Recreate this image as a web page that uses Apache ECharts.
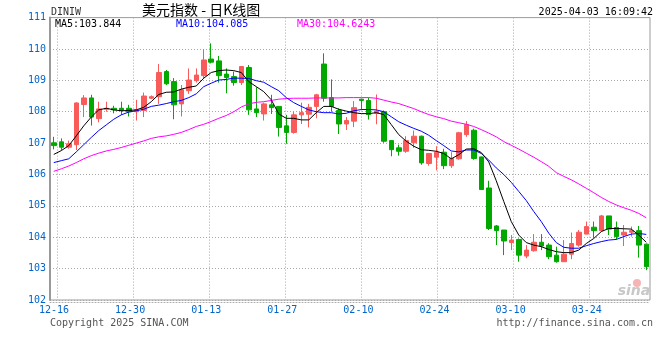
<!DOCTYPE html>
<html>
<head>
<meta charset="utf-8">
<script src="https://cdn.jsdelivr.net/npm/echarts@6/dist/echarts.min.js"></script>
<style>html,body{margin:0;padding:0;background:#fff;}#c{width:660px;height:360px;}</style>
</head>
<body>
<div id="c"></div>
<script>
const dates = ['12-13','12-16','12-17','12-18','12-19','12-20','12-23','12-24','12-25','12-26','12-27','12-30','12-31',
'01-01','01-02','01-03','01-06','01-07','01-08','01-09','01-10','01-13','01-14','01-15','01-16','01-17','01-20','01-21','01-22','01-23','01-24','01-27','01-28','01-29','01-30','01-31',
'02-03','02-04','02-05','02-06','02-07','02-10','02-11','02-12','02-13','02-14','02-17','02-18','02-19','02-20','02-21','02-24','02-25','02-26','02-27','02-28',
'03-03','03-04','03-05','03-06','03-07','03-10','03-11','03-12','03-13','03-14','03-17','03-18','03-19','03-20','03-21','03-24','03-25','03-26','03-27','03-28','03-31',
'04-01','04-02','04-03'];

const opens = [107.01,107.04,106.87,106.95,108.23,108.44,107.78,108.08,108.11,108.11,
108.11,108.00,108.04,108.43,108.48,109.28,108.96,108.25,108.67,108.99,
109.15,109.68,109.62,109.20,109.12,108.93,109.41,108.09,107.93,108.22,
108.17,107.55,107.34,107.90,107.92,108.17,109.52,108.45,108.04,107.61,
107.70,108.40,108.36,107.95,108.00,107.08,106.85,106.74,107.01,107.22,
106.35,106.55,106.71,106.28,106.50,107.27,107.41,106.56,105.57,104.36,
104.23,103.83,103.93,103.40,103.57,103.84,103.75,103.43,103.22,103.46,
103.75,104.10,104.32,104.21,104.68,104.31,104.07,104.16,104.21,103.78];
const closes = [106.92,106.87,106.98,108.28,108.44,107.83,108.09,108.11,108.06,108.05,
108.00,108.06,108.50,108.48,109.25,108.89,108.22,108.70,109.01,109.17,
109.65,109.58,109.15,109.09,108.93,109.44,108.06,107.97,108.25,108.13,
107.50,107.34,107.90,107.97,108.14,108.54,108.43,108.17,107.61,107.72,
108.13,108.36,107.91,108.02,107.06,106.79,106.74,107.08,107.22,106.37,
106.67,106.71,106.28,106.51,107.33,107.59,106.51,105.52,104.28,104.21,
103.88,103.91,103.43,103.59,103.84,103.72,103.38,103.22,103.46,103.80,
104.16,104.34,104.21,104.68,104.26,104.02,104.16,104.21,103.75,103.06];
const lows = [106.80,106.78,106.82,106.78,107.83,107.56,107.66,108.00,107.95,107.90,
107.85,107.72,107.83,108.40,108.25,108.85,107.76,107.85,108.57,108.93,
109.05,109.54,108.93,108.59,108.83,108.85,107.90,107.83,107.72,107.93,
107.21,106.98,107.30,107.61,107.50,107.79,108.32,108.00,107.29,107.42,
107.51,108.07,107.75,107.60,107.01,106.58,106.60,106.69,106.85,106.31,
106.28,106.13,106.17,106.21,106.47,107.20,106.47,105.51,104.23,103.75,
103.43,103.59,103.22,103.33,103.54,103.59,103.30,103.19,103.22,103.30,
103.70,104.09,103.98,104.21,104.07,103.93,103.72,104.02,103.35,102.95];
const highs = [107.20,107.15,107.08,108.30,108.53,108.54,108.32,108.32,108.19,108.32,
108.22,108.38,108.61,108.52,109.52,109.33,109.07,108.85,109.38,109.38,
109.99,110.18,109.78,109.38,109.28,109.44,109.49,108.78,108.29,108.54,
108.17,107.90,108.00,108.29,108.25,108.57,109.86,109.03,108.11,107.83,
108.34,108.41,108.45,108.55,108.04,107.08,106.95,107.22,107.40,107.24,
106.67,106.90,106.82,106.71,107.36,107.70,107.46,106.57,105.80,104.39,
104.23,104.07,103.96,103.75,104.10,104.10,103.81,103.70,103.91,104.15,
104.23,104.50,104.50,104.71,104.68,104.50,104.39,104.34,104.36,103.80];

const ma5 = [106.64,106.76,106.92,107.23,107.55,107.83,108.06,108.11,108.06,108.03,
108.04,108.06,108.14,108.32,108.55,108.62,108.63,108.72,108.78,108.82,
109.07,109.25,109.31,109.33,109.31,109.25,108.96,108.80,108.64,108.38,
107.93,107.79,107.79,107.74,107.74,107.97,108.17,108.17,108.08,108.02,
107.97,107.94,107.94,107.97,107.91,107.59,107.27,107.06,106.90,106.79,
106.77,106.74,106.67,106.50,106.63,106.81,106.82,106.70,106.40,105.80,
105.14,104.50,104.07,103.83,103.75,103.70,103.61,103.54,103.51,103.51,
103.59,103.80,103.96,104.18,104.28,104.28,104.27,104.26,104.07,103.84];
const ma10 = [106.38,106.44,106.50,106.72,106.95,107.18,107.40,107.58,107.76,107.90,
107.99,108.03,108.08,108.17,108.21,108.26,108.32,108.36,108.45,108.57,
108.80,108.91,109.01,109.03,109.07,109.07,109.06,108.99,108.94,108.80,
108.67,108.45,108.29,108.17,108.06,108.00,107.97,107.97,107.93,107.95,
108.03,108.07,108.07,108.06,108.00,107.84,107.68,107.57,107.47,107.38,
107.25,107.08,106.92,106.75,106.72,106.78,106.78,106.67,106.46,106.21,
106.00,105.75,105.46,105.17,104.82,104.50,104.13,103.83,103.68,103.65,
103.65,103.73,103.80,103.86,103.91,103.93,104.02,104.10,104.12,104.09];
const ma30 = [106.10,106.18,106.27,106.38,106.50,106.60,106.68,106.75,106.80,106.86,
106.93,107.00,107.07,107.15,107.20,107.23,107.28,107.34,107.43,107.53,
107.60,107.69,107.79,107.88,108.00,108.15,108.25,108.30,108.32,108.36,
108.40,108.42,108.43,108.43,108.43,108.44,108.44,108.44,108.44,108.45,
108.45,108.45,108.45,108.43,108.37,108.31,108.26,108.18,108.10,108.00,
107.91,107.84,107.78,107.70,107.65,107.60,107.53,107.43,107.32,107.20,
107.05,106.93,106.81,106.68,106.55,106.41,106.26,106.06,105.94,105.83,
105.70,105.56,105.42,105.27,105.14,105.03,104.94,104.86,104.76,104.62];

const dateTicks = ['12-16','12-30','01-13','01-27','02-10','02-24','03-10','03-24'];
const legendTexts = ['MA5:103.844','MA10:104.085','MA30:104.6243'];
const legendColors = ['#000000','#0000ff','#ff00ff'];

const candleData = opens.map((o, i) => [o, closes[i], lows[i], highs[i]]);

const MONO = '"DejaVu Sans Mono", monospace';
const BLUE = '#0066cc';
const UP = '#f95b5b';
const DOWN = '#00a800';

const chart = echarts.init(document.getElementById('c'), null, {renderer: 'canvas'});
const legendX = [55, 176, 297];

chart.setOption({
  animation: false,
  backgroundColor: '#ffffff',
  grid: [
    {left: 50, right: 10, top: 17.6, height: 282.4, show: true, borderColor: '#9a9a9a', borderWidth: 1},
    {left: 57, right: 70.3, top: 17.6, height: 282.4, show: false}
  ],
  xAxis: [
    {
      type: 'category', gridIndex: 0, data: dates, boundaryGap: true,
      axisLine: {show: true, onZero: false, lineStyle: {color: '#aaaaaa', type: [1, 2], width: 1}},
      offset: 2,
      axisTick: {show: false}, axisLabel: {show: false}, splitLine: {show: false}
    },
    {
      type: 'value', gridIndex: 1, min: 0, max: 70, interval: 10,
      axisLine: {show: false}, axisTick: {show: false},
      splitLine: {show: true, lineStyle: {color: '#a8a8a8', type: [1, 2], width: 1}},
      axisLabel: {
        show: true, color: BLUE, fontFamily: MONO, fontSize: 10, margin: 5,
        padding: [0, 6, 0, 0],
        formatter: v => dateTicks[Math.round(v / 10)]
      }
    }
  ],
  yAxis: [
    {
      type: 'value', gridIndex: 0, min: 102, max: 111, interval: 1,
      axisLine: {show: true, lineStyle: {color: '#9a9a9a', width: 2}},
      axisTick: {show: false},
      splitLine: {show: true, lineStyle: {color: '#a8a8a8', type: [1, 2], width: 1}},
      axisLabel: {color: BLUE, fontFamily: MONO, fontSize: 10, margin: 4, padding: [0, 0, 3, 0],
        showMinLabel: true, showMaxLabel: true}
    },
    {type: 'value', gridIndex: 1, min: 102, max: 111, show: false}
  ],
  series: [
    {
      type: 'candlestick', xAxisIndex: 0, yAxisIndex: 0, data: candleData, barWidth: 5,
      itemStyle: {color: UP, color0: DOWN, borderColor: UP, borderColor0: DOWN, borderWidth: 1}
    },
    {type: 'line', data: ma30, symbol: 'none', lineStyle: {color: '#ff00ff', width: 1}, z: 3},
    {type: 'line', data: ma10, symbol: 'none', lineStyle: {color: '#0000ff', width: 1}, z: 3},
    {type: 'line', data: ma5, symbol: 'none', lineStyle: {color: '#000000', width: 1}, z: 3}
  ],
  graphic: [
    {type: 'text', x: 51, y: 12, style: {text: 'DINIW', fill: '#333', font: '10px ' + MONO, textVerticalAlign: 'middle'}},
    {type: 'text', x: 142, y: 10, style: {text: '美元指数 - 日K线图', fill: '#000', font: '14px "Noto Sans CJK SC"', textVerticalAlign: 'middle'}},
    {type: 'text', x: 653, y: 12, style: {text: '2025-04-03 16:09:42', fill: '#000', font: '10px ' + MONO, textAlign: 'right', textVerticalAlign: 'middle'}},
    ...legendTexts.map((t, k) => ({type: 'text', x: legendX[k], y: 24, z: 10,
      style: {text: t, fill: legendColors[k], font: '10px ' + MONO, textVerticalAlign: 'middle'}})),
    {type: 'text', x: 50, y: 323, style: {text: 'Copyright 2025 SINA.COM', fill: '#555', font: '10px ' + MONO, textVerticalAlign: 'middle'}},
    {type: 'text', x: 653, y: 323, style: {text: 'http://finance.sina.com.cn', fill: '#555', font: '10px ' + MONO, textAlign: 'right', textVerticalAlign: 'middle'}},
    {type: 'circle', shape: {cx: 637, cy: 283, r: 4}, style: {fill: '#f6b4b4'}},
    {type: 'text', x: 634, y: 291, style: {text: 'sina', fill: '#c8c8c8', font: 'italic bold 14px "DejaVu Sans"', textAlign: 'center', textVerticalAlign: 'middle'}}
  ]
});
</script>
</body>
</html>
